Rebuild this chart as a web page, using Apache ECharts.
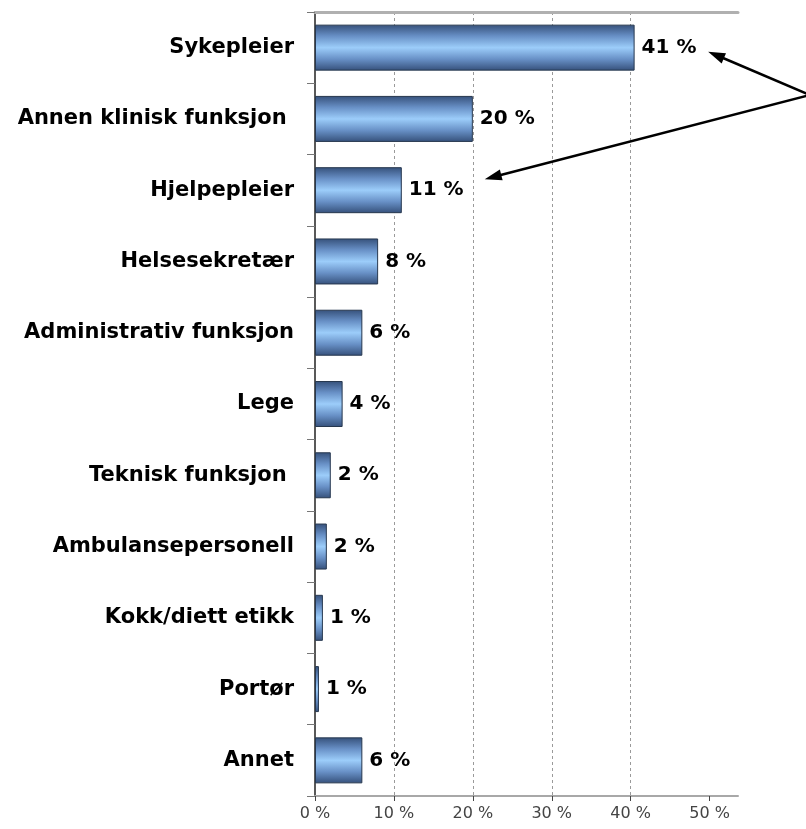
<!DOCTYPE html>
<html>
<head>
<meta charset="utf-8">
<script src="https://cdn.jsdelivr.net/npm/echarts@6/dist/echarts.min.js"></script>
<style>
  html, body { margin: 0; padding: 0; background: #fff; }
  #chart { width: 806px; height: 829px; }
</style>
</head>
<body>
<div id="chart"></div>
<script>
// roller (top to bottom) and share in %
const categories = [
  'Sykepleier',
  'Annen klinisk funksjon ',
  'Hjelpepleier',
  'Helsesekretær',
  'Administrativ funksjon',
  'Lege',
  'Teknisk funksjon ',
  'Ambulansepersonell',
  'Kokk/diett etikk',
  'Portør',
  'Annet'
]
const shares = [40.5, 20, 11, 8, 6, 3.5, 2, 1.5, 1, 0.5, 6]
const tickValues = [0, 10, 20, 30, 40, 50]

const barGradient = new echarts.graphic.LinearGradient(0, 0, 0, 1, [
  { offset: 0, color: '#35507a' },
  { offset: 0.25, color: '#6890c6' },
  { offset: 0.5, color: '#9ccdfa' },
  { offset: 0.75, color: '#6890c6' },
  { offset: 1, color: '#35507a' }
])

const chart = echarts.init(document.getElementById('chart'))
chart.setOption({
  animation: false,
  grid: { left: 315, right: 68, top: 12, bottom: 33 },
  xAxis: [
    {
      type: 'value',
      min: 0,
      max: 53.6,
      interval: 10,
      axisLine: { show: true, lineStyle: { color: '#a8a8a8', width: 2 } },
      axisTick: { show: true, length: 5, customValues: tickValues, lineStyle: { color: '#444' } },
      axisLabel: {
        customValues: tickValues,
        formatter: v => v + ' %',
        color: '#444',
        fontFamily: 'DejaVu Sans',
        fontSize: 16,
        margin: 10
      },
      splitLine: {
        show: true,
        showMinLine: false,
        showMaxLine: false,
        lineStyle: { color: '#9a9a9a', type: [3, 3], width: 1 }
      }
    },
    {
      type: 'value',
      position: 'top',
      min: 0,
      max: 53.6,
      axisLine: { show: true, lineStyle: { color: '#b0b0b0', width: 3 } },
      axisTick: { show: false },
      axisLabel: { show: false },
      splitLine: { show: false }
    }
  ],
  yAxis: {
    type: 'category',
    inverse: true,
    data: categories,
    axisLine: { show: true, lineStyle: { color: '#222', width: 1.5 } },
    axisTick: { show: true, length: 8, lineStyle: { color: '#777' } },
    axisLabel: {
      color: '#000',
      fontFamily: 'DejaVu Sans',
      fontWeight: 'bold',
      fontSize: 21,
      margin: 21
    }
  },
  series: [
    {
      type: 'bar',
      data: shares,
      barWidth: 46,
      clip: false,
      itemStyle: { color: barGradient, borderColor: '#27384f', borderWidth: 1 },
      label: {
        show: true,
        position: 'right',
        distance: 7,
        formatter: p => Math.round(p.value) + ' %',
        color: '#000',
        fontFamily: 'DejaVu Sans',
        fontWeight: 'bold',
        fontSize: 20
      },
      markLine: {
        silent: true,
        symbol: ['none', 'triangle'],
        symbolSize: [11, 17],
        label: { show: false },
        lineStyle: { color: '#000', width: 2.5, type: 'solid' },
        data: [
          [{ x: 810, y: 95 }, { x: 716, y: 55 }],
          [{ x: 810, y: 95 }, { x: 493, y: 177 }]
        ]
      }
    }
  ]
})
</script>
</body>
</html>
